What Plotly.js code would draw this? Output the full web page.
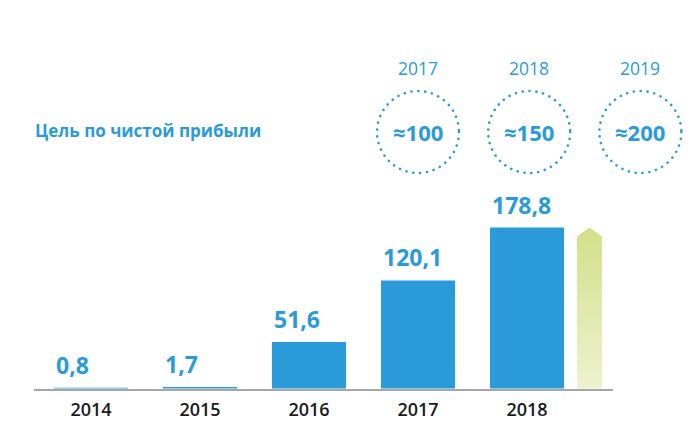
<!DOCTYPE html>
<html>
<head>
<meta charset="utf-8">
<script src="https://cdn.plot.ly/plotly-3.0.1.min.js"></script>
<style>
html,body{margin:0;padding:0;background:#fff;}
#chart{width:699px;height:426px;}
</style>
</head>
<body>
<div id="chart"></div>
<script>
// ---- data ----
var years = ['2014', '2015', '2016', '2017', '2018'];
var netProfit = [0.8, 1.7, 51.6, 120.1, 178.8];
var valueLabels = ['0,8', '1,7', '51,6', '120,1', '178,8'];
var targetYears = ['2017', '2018', '2019'];
var targetValues = [100, 150, 200];
var targetLabels = ['≈100', '≈150', '≈200'];
var titleText = 'Цель по чистой прибыли';

// ---- style ----
var BLUE = '#2a9bd8';
var GRAY = '#a6a6a6';
var barWidth = 0.68;
var PXY = 0.9; // px per unit
var idx = years.map(function (_, i) { return i; });
function yPx(px) { return (388.5 - px) / PXY; } // pixel row -> data y

var traces = [{
  type: 'bar',
  x: idx,
  y: netProfit,
  width: barWidth,
  marker: {color: BLUE, line: {width: 0}},
  hoverinfo: 'skip'
}];

// growth arrow next to the last bar (tip at the last value)
var last = netProfit[netProfit.length - 1];
var ac = idx[idx.length - 1] + 0.573, ah = 0.115, shoulder = last - 10;
traces.push({
  type: 'scatter',
  mode: 'lines',
  x: [ac - ah, ac - ah, ac, ac + ah, ac + ah, ac - ah],
  y: [0, shoulder, last, shoulder, 0, 0],
  fill: 'toself',
  line: {width: 0},
  fillgradient: {type: 'vertical', colorscale: [[0, '#edf2cd'], [1, '#d3df8a']]},
  hoverinfo: 'skip',
  showlegend: false
});

var annotations = [];
idx.forEach(function (i) {
  annotations.push({
    x: i - barWidth / 2, y: netProfit[i], xref: 'x', yref: 'y',
    xanchor: 'left', yanchor: 'bottom', xshift: 0, yshift: 5,
    text: valueLabels[i], showarrow: false,
    font: {family: 'Open Sans', size: 23, color: BLUE, weight: 700}
  });
});

var shapes = [{
  type: 'line', xref: 'x', yref: 'y', x0: -0.523, x1: 4.79, y0: yPx(390), y1: yPx(390),
  line: {color: GRAY, width: 2}, layer: 'below'
}];

var cy = yPx(132), ry = 41 / PXY, rx = 41 / 109;
targetYears.forEach(function (yr, k) {
  var cx = 3 + k * 1.02;
  shapes.push({
    type: 'circle', xref: 'x', yref: 'y',
    x0: cx - rx, x1: cx + rx, y0: cy - ry, y1: cy + ry,
    line: {color: BLUE, width: 2.6, dash: '0.1px,6.8px'}
  });
  annotations.push({
    x: cx, y: cy, xref: 'x', yref: 'y', xanchor: 'center', yanchor: 'middle',
    text: targetLabels[k], showarrow: false,
    font: {family: 'Open Sans', size: 22, color: BLUE, weight: 700}
  });
  annotations.push({
    x: cx, y: yPx(68), xref: 'x', yref: 'y', xanchor: 'center', yanchor: 'middle',
    text: yr, showarrow: false,
    font: {family: 'Open Sans', size: 17.5, color: BLUE}
  });
});

annotations.push({
  x: -0.534, y: yPx(130.5), xref: 'x', yref: 'y', xanchor: 'left', yanchor: 'middle',
  text: titleText, showarrow: false,
  font: {family: 'Open Sans', size: 17, color: BLUE, weight: 700}
});

var layout = {
  width: 699, height: 426,
  margin: {l: 0, r: 0, t: 0, b: 34, pad: 0},
  paper_bgcolor: '#fff', plot_bgcolor: '#fff',
  showlegend: false,
  xaxis: {
    range: [-91 / 109, 608 / 109],
    tickmode: 'array', tickvals: idx, ticktext: years,
    showgrid: false, zeroline: false, showline: false, ticks: '',
    ticklabelstandoff: 5,
    tickfont: {family: 'Open Sans', size: 18, color: '#1a1a1a', weight: 600},
    fixedrange: true
  },
  yaxis: {
    range: [yPx(392), yPx(0)],
    visible: false, showgrid: false, zeroline: false, fixedrange: true
  },
  shapes: shapes,
  annotations: annotations
};

Plotly.newPlot('chart', traces, layout, {displayModeBar: false, staticPlot: true}).then(function () {
  document.querySelectorAll('.shapelayer path').forEach(function (p) {
    if ((p.style.strokeDasharray || '').indexOf('0.1') >= 0) p.style.strokeLinecap = 'round';
  });
});
</script>
</body>
</html>
